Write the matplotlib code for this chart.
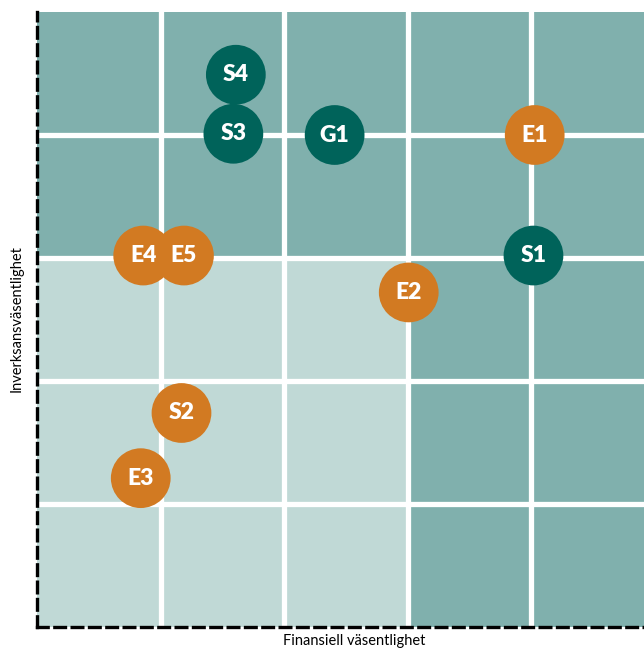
import matplotlib
matplotlib.use("Agg")
import matplotlib.pyplot as plt
from matplotlib.patches import Rectangle

# Data
labels = ["S4", "S3", "G1", "E1", "E4", "E5", "S1", "E2", "S2", "E3"]
x_vals = [1.61, 1.59, 2.41, 4.03, 0.86, 1.19, 4.02, 3.01, 1.17, 0.84]
y_vals = [4.49, 4.01, 4.00, 4.00, 3.02, 3.02, 3.02, 2.72, 1.74, 1.21]
groups = ["S", "S", "S", "E", "E", "E", "S", "E", "E", "E"]
x_label = "Finansiell väsentlighet"
y_label = "Inverksansväsentlighet"
n_cells = 5

dark_bg = "#80b0ad"
light_bg = "#c0d9d6"
colors = {"S": "#00635a", "E": "#d27a22", }
fam = ["Lato", "DejaVu Sans"]

fig = plt.figure(figsize=(6.44, 6.48), dpi=100)
ax = fig.add_axes([37/644, 1-627/648, (654.5-37)/644, 615/648])
ax.set_xlim(0, n_cells)
ax.set_ylim(0, n_cells)

for i in range(n_cells):
    for j in range(n_cells):
        dark = (i >= 3) or (j >= 3)
        ax.add_patch(Rectangle((i, j), 1, 1, facecolor=dark_bg if dark else light_bg,
                               edgecolor="none", zorder=0))
for k in range(1, n_cells):
    ax.axvline(k, color="white", lw=3.8, zorder=1)
    ax.axhline(k, color="white", lw=3.8, zorder=1)

for lab, x, y, g in zip(labels, x_vals, y_vals, groups):
    ax.scatter([x], [y], s=1850, color=colors[g], edgecolors="none", zorder=3)
    ax.text(x, y, lab, ha="center", va="center", color="white", fontsize=16.5,
            fontweight="heavy", family=fam, zorder=4)

ax.set_xticks([])
ax.set_yticks([])
for s in ["top", "right"]:
    ax.spines[s].set_visible(False)
for s in ["left", "bottom"]:
    ax.spines[s].set_linewidth(2.4)
    ax.spines[s].set_linestyle((0, (3.2, 2.0)))
    ax.spines[s].set_color("black")
    ax.spines[s].set_zorder(5)

fig.text(354/644, 1-641/648, x_label, ha="center", va="center", fontsize=10.5, family=fam)
fig.text(17/644, 1-319/648, y_label, ha="center", va="center", rotation=90,
         fontsize=10.5, family=fam)

fig.savefig("out.png", dpi=100)
